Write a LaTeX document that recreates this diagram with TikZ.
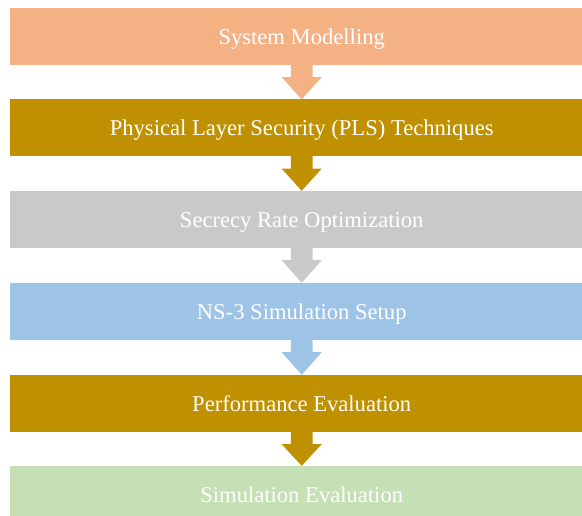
\documentclass[tikz,border=0pt]{standalone}
\usepackage{fontspec}
\setmainfont{Liberation Serif}
\usetikzlibrary{calc}
\definecolor{cPeach}{HTML}{F4B183}
\definecolor{cGold}{HTML}{BF9000}
\definecolor{cGray}{HTML}{C9C9C9}
\definecolor{cBlue}{HTML}{9DC3E6}
\definecolor{cGreen}{HTML}{C5E0B4}
\tikzset{
  stagebox/.style={rectangle, inner sep=0pt, minimum width=583.4bp, minimum height=57bp,
    text height=16bp, text depth=0bp,
    text=white, font=\fontsize{22.6bp}{26bp}\selectfont},
}
\begin{document}
\begin{tikzpicture}[x=1bp,y=-1bp]
\useasboundingbox (0,0) rectangle (582,516);
\begin{scope}
\clip (0,0) rectangle (582,516);
\node[stagebox, fill=cPeach] (s1) at (301.7,36.5) {System Modelling};
\node[stagebox, fill=cGold]  (s2) at (301.7,128) {Physical Layer Security (PLS) Techniques};
\node[stagebox, fill=cGray]  (s3) at (301.7,219.5) {Secrecy Rate Optimization};
\node[stagebox, fill=cBlue]  (s4) at (301.7,311.5) {NS-3 Simulation Setup};
\node[stagebox, fill=cGold]  (s5) at (301.7,403.5) {Performance Evaluation};
\node[stagebox, fill=cGreen] (s6) at (301.7,494.5) {Simulation Evaluation};
% block arrows between consecutive stages
\foreach \a/\b/\c in {s1/s2/cPeach, s2/s3/cGold, s3/s4/cGray, s4/s5/cBlue, s5/s6/cGold}{
  \fill[\c] ($(\a.south)+(-10.8,-0.5)$) -- ($(\a.south)+(-10.8,12)$) -- ($(\a.south)+(-20,12)$)
    -- (\b.north) -- ($(\a.south)+(20,12)$) -- ($(\a.south)+(10.8,12)$)
    -- ($(\a.south)+(10.8,-0.5)$) -- cycle;
}
\end{scope}
\end{tikzpicture}
\end{document}
